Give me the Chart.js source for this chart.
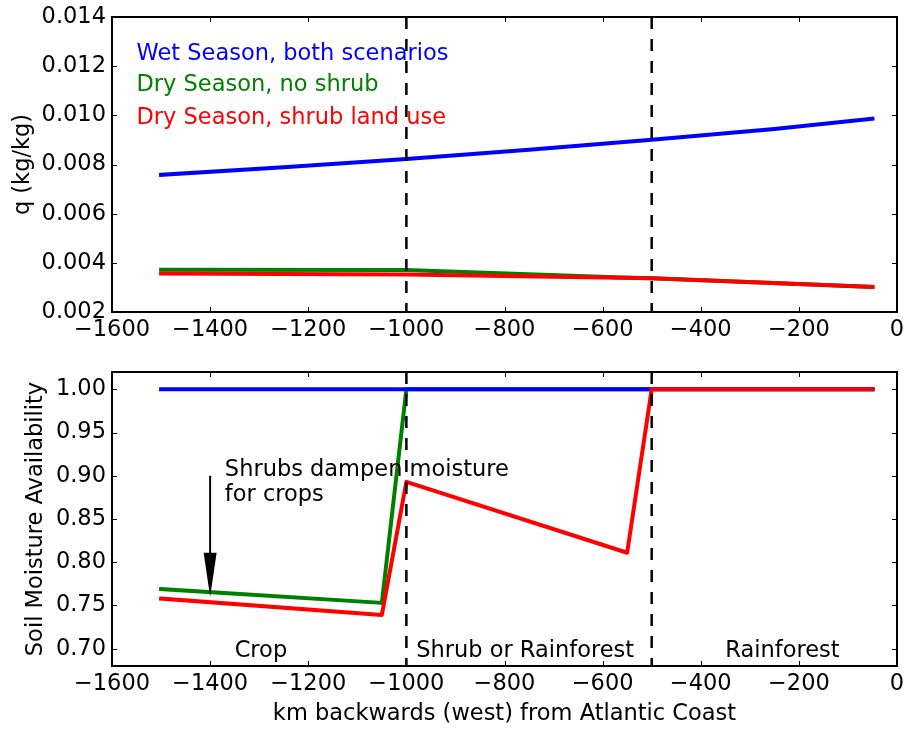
<!DOCTYPE html>
<html>
<head>
<meta charset="utf-8">
<script src="https://cdn.jsdelivr.net/npm/chart.js@4"></script>
<style>
  html, body { margin: 0; padding: 0; background: #fff; }
  #wrap { position: relative; width: 904px; height: 729px; overflow: hidden; }
  canvas { position: absolute; left: 0; }
  #qChart { top: 0; }
  #smaChart { top: 345px; }
</style>
</head>
<body>
<div id="wrap">
  <canvas id="qChart" width="904" height="345"></canvas>
  <canvas id="smaChart" width="904" height="384"></canvas>
</div>
<script>
// ---- data ----
const kmTicks = [-1600, -1400, -1200, -1000, -800, -600, -400, -200, 0];
const qTicks = [0.002, 0.004, 0.006, 0.008, 0.010, 0.012, 0.014];
const smaTicks = [0.70, 0.75, 0.80, 0.85, 0.90, 0.95, 1.00];

// land-use boundaries (km)
const boundaries = [-1000, -500];

// specific humidity q (kg/kg)
const kmWetQ = [-1500, -1250, -1000, -750, -500, -250, -50];
const qWet   = [0.00758, 0.00789, 0.00822, 0.00860, 0.00901, 0.00944, 0.00986];
const kmDryNoShrubQ = [-1500, -1000, -560, -500, -50];
const qDryNoShrub   = [0.00372, 0.00371, 0.00340, 0.00337, 0.00302];
const kmDryShrubQ = [-1500, -1000, -500, -50];
const qDryShrub   = [0.00357, 0.00353, 0.00337, 0.00302];

// soil moisture availability
const kmWetS = [-1500, -50];
const smaWet = [1.00, 1.00];
const kmDryNoShrubS = [-1500, -1050, -1000, -50];
const smaDryNoShrub = [0.769, 0.753, 1.00, 1.00];
const kmDryShrubS = [-1500, -1050, -1000, -550, -500, -50];
const smaDryShrub = [0.758, 0.739, 0.893, 0.811, 1.00, 1.00];

const seriesLabels = ['Wet Season, both scenarios', 'Dry Season, no shrub', 'Dry Season, shrub land use'];
const seriesColors = ['#0000ff', '#008000', '#ff0000'];
const legendAnchorKm = -1550;
const legendAnchorQ = [0.01226, 0.01097, 0.00965];

const regionLabels = ['Crop', 'Shrub or Rainforest', 'Rainforest'];
const regionLabelKm = [-1350, -980, -350];
const regionLabelSma = 0.69;

const noteLines = ['Shrubs dampen moisture', 'for crops'];
const noteKm = -1370, noteSma = 0.90;
const arrowKm = -1400, arrowFrom = 0.90, arrowTo = 0.76;

const qRange = [0.002, 0.014];
const smaRange = [0.68, 1.02];
const kmRange = [-1600, 0];

// ---- helpers ----
const FONT = 'DejaVu Sans';
const FSIZE = 22.5;
const zip = (xs, ys) => xs.map((x, i) => ({ x, y: ys[i] }));
const minus = v => (v < 0 ? '\u2212' + Math.abs(v) : String(v));

function seriesDataset(label, color, xs, ys, order) {
  return {
    label, data: zip(xs, ys), borderColor: color, backgroundColor: color,
    borderWidth: 4, pointRadius: 0, fill: false, tension: 0,
    borderJoinStyle: 'round', borderCapStyle: 'square', order
  };
}
function boundaryDatasets(range) {
  return boundaries.map(b => ({
    label: 'boundary ' + b,
    data: [{ x: b, y: range[1] }, { x: b, y: range[0] }],
    borderColor: '#000', borderWidth: 2.5, borderDash: [12, 10],
    pointRadius: 0, fill: false, order: 0
  }));
}

// inward tick marks on all four sides plus a closed frame
const framePlugin = {
  id: 'frame',
  afterDraw(chart) {
    const { ctx, chartArea: { left, right, top, bottom }, scales: { x, y } } = chart;
    const L = 5;
    ctx.save();
    ctx.strokeStyle = '#000';
    ctx.lineWidth = 1;
    ctx.beginPath();
    x.ticks.forEach(t => {
      const px = Math.round(x.getPixelForValue(t.value)) + 0.5;
      ctx.moveTo(px, bottom); ctx.lineTo(px, bottom - L);
      ctx.moveTo(px, top); ctx.lineTo(px, top + L);
    });
    y.ticks.forEach(t => {
      const py = Math.round(y.getPixelForValue(t.value)) + 0.5;
      ctx.moveTo(left, py); ctx.lineTo(left + L, py);
      ctx.moveTo(right, py); ctx.lineTo(right - L, py);
    });
    ctx.stroke();
    ctx.lineWidth = 2;
    ctx.strokeRect(left, top, right - left, bottom - top);
    ctx.restore();
  }
};

// coloured series names inside the humidity panel
const seriesNamesPlugin = {
  id: 'seriesNames',
  afterDraw(chart) {
    const { ctx, scales: { x, y } } = chart;
    ctx.save();
    ctx.font = `${FSIZE}px "${FONT}"`;
    ctx.textAlign = 'left';
    ctx.textBaseline = 'alphabetic';
    seriesLabels.forEach((t, i) => {
      ctx.fillStyle = seriesColors[i];
      ctx.fillText(t, x.getPixelForValue(legendAnchorKm), y.getPixelForValue(legendAnchorQ[i]));
    });
    ctx.restore();
  }
};

// region names, note and arrow in the soil-moisture panel
const notesPlugin = {
  id: 'notes',
  afterDraw(chart) {
    const { ctx, scales: { x, y } } = chart;
    ctx.save();
    ctx.fillStyle = '#000';
    ctx.font = `${FSIZE}px "${FONT}"`;
    ctx.textAlign = 'left';
    ctx.textBaseline = 'alphabetic';
    regionLabels.forEach((t, i) => {
      ctx.fillText(t, x.getPixelForValue(regionLabelKm[i]), y.getPixelForValue(regionLabelSma));
    });
    const nx = x.getPixelForValue(noteKm), ny = y.getPixelForValue(noteSma);
    noteLines.forEach((t, i) => ctx.fillText(t, nx, ny + i * 25.6));

    const ax = x.getPixelForValue(arrowKm);
    const y0 = y.getPixelForValue(arrowFrom), y1 = y.getPixelForValue(arrowTo);
    const headLen = 44, headHalf = 6.5;
    ctx.strokeStyle = '#000';
    ctx.lineWidth = 2;
    ctx.beginPath();
    ctx.moveTo(ax, y0); ctx.lineTo(ax, y1 - headLen + 2);
    ctx.stroke();
    ctx.beginPath();
    ctx.moveTo(ax - headHalf, y1 - headLen);
    ctx.lineTo(ax + headHalf, y1 - headLen);
    ctx.lineTo(ax, y1);
    ctx.closePath();
    ctx.fill();
    ctx.restore();
  }
};

function zeroPad(s) {
  s.paddingLeft = 0; s.paddingRight = 0; s.paddingTop = 0; s.paddingBottom = 0;
}

function makeOptions(yRange, yTicks, yDecimals, yTitle, yTitlePad, xTitle, xHeight, xTickPad, padTop, yWidth) {
  return {
    responsive: false,
    animation: false,
    events: [],
    layout: { padding: { left: 0, right: 7, top: padTop, bottom: 0 } },
    plugins: { legend: { display: false }, tooltip: { enabled: false } },
    scales: {
      x: {
        type: 'linear', min: kmRange[0], max: kmRange[1],
        afterBuildTicks: s => { s.ticks = kmTicks.map(v => ({ value: v })); },
        afterFit: s => { s.height = xHeight; zeroPad(s); },
        grid: { display: false, drawTicks: false },
        border: { display: false },
        ticks: { color: '#000', font: { family: FONT, size: FSIZE }, padding: xTickPad, maxRotation: 0, autoSkip: false, callback: minus },
        title: xTitle
          ? { display: true, text: xTitle, color: '#000', font: { family: FONT, size: FSIZE }, padding: { top: 0, bottom: 1 } }
          : { display: false }
      },
      y: {
        type: 'linear', min: yRange[0], max: yRange[1],
        afterBuildTicks: s => { s.ticks = yTicks.map(v => ({ value: v })); },
        afterFit: s => { s.width = yWidth; zeroPad(s); },
        grid: { display: false, drawTicks: false },
        border: { display: false },
        ticks: { color: '#000', font: { family: FONT, size: FSIZE }, padding: 6, autoSkip: false, callback: v => Number(v).toFixed(yDecimals) },
        title: { display: true, text: yTitle, color: '#000', font: { family: FONT, size: FSIZE }, padding: { top: yTitlePad, bottom: 0 } }
      }
    }
  };
}

new Chart(document.getElementById('qChart'), {
  type: 'line',
  data: {
    datasets: [
      seriesDataset(seriesLabels[0], seriesColors[0], kmWetQ, qWet, 2),
      seriesDataset(seriesLabels[1], seriesColors[1], kmDryNoShrubQ, qDryNoShrub, 3),
      seriesDataset(seriesLabels[2], seriesColors[2], kmDryShrubQ, qDryShrub, 1),
      ...boundaryDatasets(qRange)
    ]
  },
  options: makeOptions(qRange, qTicks, 3, 'q (kg/kg)', 10, null, 33, 5, 17, 112),
  plugins: [framePlugin, seriesNamesPlugin]
});

new Chart(document.getElementById('smaChart'), {
  type: 'line',
  data: {
    datasets: [
      seriesDataset(seriesLabels[0], seriesColors[0], kmWetS, smaWet, 2),
      seriesDataset(seriesLabels[1], seriesColors[1], kmDryNoShrubS, smaDryNoShrub, 3),
      seriesDataset(seriesLabels[2], seriesColors[2], kmDryShrubS, smaDryShrub, 1),
      ...boundaryDatasets(smaRange)
    ]
  },
  options: makeOptions(smaRange, smaTicks, 2, 'Soil Moisture Availability', 23, 'km backwards (west) from Atlantic Coast', 63, 5, 27, 112),
  plugins: [framePlugin, notesPlugin]
});
</script>
</body>
</html>
